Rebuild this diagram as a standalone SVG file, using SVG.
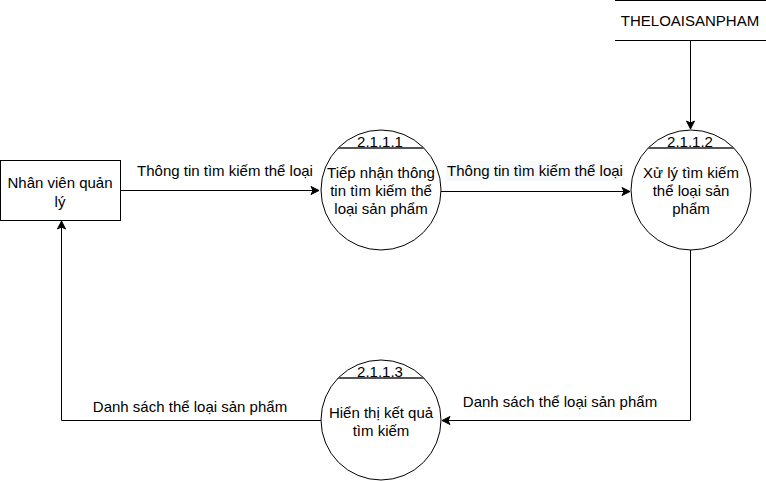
<svg xmlns="http://www.w3.org/2000/svg" width="766" height="481" viewBox="0 0 766 481">
<style>
text { font-family: "Liberation Sans", Arial, sans-serif; font-size: 15px; fill: #000; }
.c { text-anchor: middle; }
.shape { fill: #fff; stroke: #000; stroke-width: 1; }
.hdr { stroke: #555; stroke-width: 2; }
.conn { fill: none; stroke: #000; stroke-width: 1; }
</style>
<defs>
<marker id="arr" markerWidth="10" markerHeight="10" refX="9" refY="5" orient="auto" markerUnits="userSpaceOnUse">
<path d="M1,1 L9,5 L1,9 L3,5 Z" fill="#000" stroke="#000" stroke-width="1"/>
</marker>
</defs>
<rect width="766" height="481" fill="#fff"/>
<g id="connectors">
<path class="conn" d="M121,190.5 L319,190.5" marker-end="url(#arr)"/>
<path class="conn" d="M441,191.5 L630,191.5" marker-end="url(#arr)"/>
<path class="conn" d="M690.5,41 L690.5,129" marker-end="url(#arr)"/>
<path class="conn" d="M690.5,250 L690.5,420.5 L442,420.5" marker-end="url(#arr)"/>
<path class="conn" d="M321,420.5 L61.5,420.5 L61.5,221" marker-end="url(#arr)"/>
<text class="c" x="225" y="176">Thông tin tìm kiếm thể loại</text>
<rect x="446" y="161" width="178" height="20" fill="#f8f9fa"/>
<text class="c" x="535" y="176">Thông tin tìm kiếm thể loại</text>
<text class="c" x="560" y="407">Danh sách thể loại sản phẩm</text>
<text class="c" x="190" y="412">Danh sách thể loại sản phẩm</text>
</g>
<g id="nhanvien">
<rect class="shape" x="0.5" y="160.5" width="120" height="60"/>
<text class="c" x="60" y="188">Nhân viên quản</text>
<text class="c" x="60" y="207">lý</text>
</g>
<g id="theloaisanpham">
<rect x="615" y="0" width="151" height="41" fill="#fff"/>
<path class="conn" d="M615,0.5 L766,0.5 M615,40.5 L766,40.5"/>
<text class="c" x="690" y="26">THELOAISANPHAM</text>
</g>
<g id="p2111">
<circle class="shape" cx="381" cy="190" r="60"/>
<line class="hdr" x1="338" y1="148" x2="424" y2="148"/>
<text class="c" x="380" y="147">2.1.1.1</text>
<text class="c" x="381" y="178">Tiếp nhận thông</text>
<text class="c" x="381" y="196">tin tìm kiếm thể</text>
<text class="c" x="381" y="214">loại sản phẩm</text>
</g>
<g id="p2112">
<circle class="shape" cx="691" cy="190" r="60"/>
<line class="hdr" x1="648" y1="148" x2="734" y2="148"/>
<text class="c" x="690" y="147">2.1.1.2</text>
<text class="c" x="691" y="178">Xử lý tìm kiếm</text>
<text class="c" x="691" y="196">thể loại sản</text>
<text class="c" x="691" y="214">phẩm</text>
</g>
<g id="p2113">
<circle class="shape" cx="381" cy="420" r="60"/>
<line class="hdr" x1="338" y1="378" x2="424" y2="378"/>
<text class="c" x="380" y="377">2.1.1.3</text>
<text class="c" x="381" y="418">Hiển thị kết quả</text>
<text class="c" x="381" y="436">tìm kiếm</text>
</g>
</svg>
